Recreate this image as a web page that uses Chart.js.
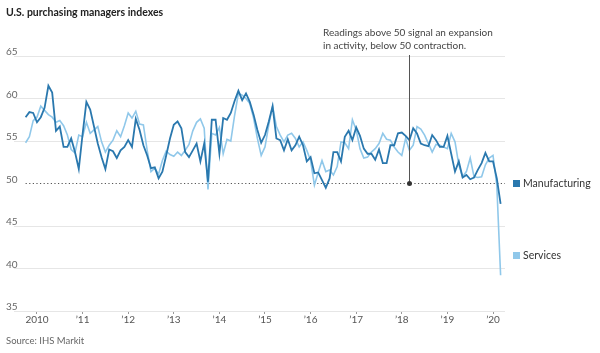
<!DOCTYPE html>
<html>
<head>
<meta charset="utf-8">
<script src="https://cdn.jsdelivr.net/npm/chart.js@4.4.1/dist/chart.umd.min.js"></script>
<style>
  html, body { margin: 0; padding: 0; background: #fff; }
  #wrap { width: 600px; height: 353px; }
</style>
</head>
<body>
<div id="wrap"><canvas id="pmiChart" width="600" height="353"></canvas></div>
<script>
// Monthly readings, first one is Oct 2009, last one Mar 2020
const START_YEAR = 2009;
const START_MONTH = 10;

const MANUFACTURING = [
  57.8, 58.4, 58.3,
  57.2, 57.8, 58.9, 61.5, 60.7, 56.2, 56.7, 54.3, 54.3, 55.3, 53.7, 51.7,
  55.8, 59.6, 58.7, 56.7, 54.7, 53.1, 51.7, 54.0, 53.8, 53.0, 53.9, 54.3,
  55.1, 54.3, 57.6, 56.3, 54.5, 53.3, 51.8, 51.9, 50.6, 51.4, 53.3, 55.3,
  56.9, 57.3, 56.5, 53.7, 53.1, 53.9, 54.7, 52.6, 54.7, 50.2, 57.5, 57.5,
  53.5, 57.7, 57.5, 58.3, 59.7, 60.9, 59.8, 60.6, 59.6, 58.1, 56.3, 54.8,
  55.7, 57.3, 59.1, 55.3, 55.1, 53.9, 55.2, 53.9, 54.5, 55.5, 54.5, 52.6,
  53.1, 51.2, 51.3, 50.4, 49.5, 50.6, 53.7, 53.7, 52.6, 55.5, 56.2, 55.1,
  56.6, 55.6, 54.1, 53.5, 53.5, 52.8, 54.0, 52.4, 52.4, 54.5, 54.5, 55.9,
  56.0, 55.6, 55.1, 56.5, 55.9, 54.7, 54.5, 54.4, 55.7, 55.1, 54.3, 54.3,
  55.6, 53.5, 51.4, 52.6, 50.7, 51.0, 50.5, 50.7, 51.6, 52.4, 53.6, 52.6,
  52.6, 50.6, 47.6
];

const SERVICES = [
  54.8, 55.5, 57.4,
  57.8, 59.1, 58.6, 58.1, 57.8, 57.2, 57.4, 56.8, 55.7, 54.0, 53.6, 55.7,
  55.5, 57.2, 55.9, 56.3, 56.7, 54.9, 53.7, 54.5, 55.1, 56.2, 55.5, 56.8,
  58.3, 57.7, 58.5, 57.0, 56.9, 53.9, 51.4, 51.8, 51.1, 52.7, 53.8, 53.4,
  53.2, 53.7, 53.3, 53.9, 54.6, 56.2, 57.2, 57.6, 56.5, 49.3, 55.9, 55.7,
  56.6, 53.5, 55.2, 55.0, 58.0, 60.6, 60.4, 60.0, 59.4, 57.7, 55.3, 53.3,
  54.3, 56.9, 59.1, 56.7, 55.7, 54.9, 55.7, 55.9, 55.3, 54.3, 54.9, 53.9,
  52.7, 49.8, 51.3, 52.7, 51.4, 51.6, 51.0, 52.0, 54.9, 54.8, 54.1, 57.5,
  56.3, 54.1, 53.0, 53.1, 53.7, 54.1, 54.7, 55.9, 55.2, 55.1, 54.3, 53.7,
  53.3, 55.3, 53.9, 54.5, 56.7, 56.4, 55.7, 54.7, 53.7, 54.6, 54.5, 54.3,
  54.1, 55.9, 54.9, 52.2, 50.8, 51.4, 53.0, 50.8, 50.7, 50.8, 52.2, 53.0,
  53.3, 49.8, 39.2
];

const Y_TICKS = [35, 40, 45, 50, 55, 60, 65];
const YEAR_TICKS = [2010, 2011, 2012, 2013, 2014, 2015, 2016, 2017, 2018, 2019, 2020];
const THRESHOLD = 50;
const NOTE_AT = { year: 2018, month: 3 };
const NOTE_LINES = ['Readings above 50 signal an expansion', 'in activity, below 50 contraction.'];

const X_MIN = 2009.496;
const X_MAX = 2020.263;
const FONT = 'Lato, "Noto Sans", sans-serif';

function monthToX(year, month) {
  return year + (month - 1) / 12;
}

function toPoints(values) {
  return values.map((v, i) => ({ x: monthToX(START_YEAR, START_MONTH + i), y: v }));
}

const firstX = monthToX(START_YEAR, START_MONTH);

// extra text: title, y labels, annotation, legend, source
const textPlugin = {
  id: 'textPlugin',
  afterDraw(chart) {
    const ctx = chart.ctx;
    const x = chart.scales.x;
    const y = chart.scales.y;
    ctx.save();

    ctx.fillStyle = '#222';
    ctx.font = 'bold 10.5px ' + FONT;
    ctx.textBaseline = 'alphabetic';
    ctx.textAlign = 'left';
    ctx.fillText('U.S. purchasing managers indexes', 6, 16);

    ctx.fillStyle = '#666';
    ctx.font = '10px ' + FONT;
    Y_TICKS.forEach(v => {
      ctx.fillText(String(v), 6, y.getPixelForValue(v) - 1);
    });

    ctx.font = '9.5px ' + FONT;
    ctx.fillText('Source: IHS Markit', 6, 344);

    // annotation
    const nx = Math.round(x.getPixelForValue(monthToX(NOTE_AT.year, NOTE_AT.month))) + 0.5;
    const ny = y.getPixelForValue(THRESHOLD);
    ctx.strokeStyle = '#555';
    ctx.lineWidth = 1;
    ctx.beginPath();
    ctx.moveTo(nx, y.getPixelForValue(65) - 1);
    ctx.lineTo(nx, ny);
    ctx.stroke();
    ctx.fillStyle = '#333';
    ctx.beginPath();
    ctx.arc(nx, ny, 2.5, 0, Math.PI * 2);
    ctx.fill();

    ctx.fillStyle = '#444';
    ctx.font = '10px ' + FONT;
    ctx.fillText(NOTE_LINES[0], 323, 36);
    ctx.fillText(NOTE_LINES[1], 323, 49);

    // legend
    ctx.font = '10.5px ' + FONT;
    ctx.textBaseline = 'middle';
    ctx.fillStyle = '#2a78ae';
    ctx.fillRect(513, 180, 7, 7);
    ctx.fillStyle = '#333';
    ctx.fillText('Manufacturing', 523, 184);
    ctx.fillStyle = '#90c8ea';
    ctx.fillRect(513, 252, 7, 7);
    ctx.fillStyle = '#333';
    ctx.fillText('Services', 523, 256);

    ctx.restore();
  }
};

const ctx = document.getElementById('pmiChart').getContext('2d');
const pmiChart = new Chart(ctx, {
  type: 'line',
  data: {
    datasets: [
      {
        label: 'Manufacturing',
        data: toPoints(MANUFACTURING),
        borderColor: '#2a78ae',
        borderWidth: 1.8,
        pointRadius: 0,
        tension: 0,
        fill: false
      },
      {
        label: 'Services',
        data: toPoints(SERVICES),
        borderColor: '#90c8ea',
        borderWidth: 1.6,
        pointRadius: 0,
        tension: 0,
        fill: false
      },
      {
        label: 'Threshold',
        data: [{ x: firstX, y: THRESHOLD }, { x: X_MAX, y: THRESHOLD }],
        borderColor: '#555',
        borderWidth: 1.2,
        borderDash: [1.2, 2.4],
        pointRadius: 0,
        fill: false
      }
    ]
  },
  options: {
    responsive: false,
    animation: false,
    devicePixelRatio: 1,
    layout: { padding: { left: 14, right: 95, top: 56, bottom: 0 } },
    plugins: {
      legend: { display: false },
      tooltip: { enabled: false }
    },
    scales: {
      x: {
        type: 'linear',
        min: X_MIN,
        max: X_MAX,
        afterBuildTicks: scale => { scale.ticks = YEAR_TICKS.map(v => ({ value: v })); },
        afterFit: scale => { scale.height = 42; },
        border: { display: false },
        grid: { drawOnChartArea: false, drawTicks: true, tickLength: 3, tickColor: '#999' },
        ticks: {
          padding: 0,
          color: '#555',
          font: { family: FONT, size: 10 },
          maxRotation: 0,
          autoSkip: false,
          callback: v => (v === 2010 ? '2010' : '\u2019' + String(v).slice(2))
        }
      },
      y: {
        min: 35,
        max: 65,
        afterBuildTicks: scale => { scale.ticks = Y_TICKS.map(v => ({ value: v })); },
        afterFit: scale => { scale.width = 0; },
        border: { display: false },
        grid: {
          drawTicks: false,
          color: c => (c.tick && c.tick.value === THRESHOLD ? 'rgba(0,0,0,0)' : '#e6e6e6')
        },
        ticks: { display: false }
      }
    }
  },
  plugins: [textPlugin]
});
</script>
</body>
</html>
